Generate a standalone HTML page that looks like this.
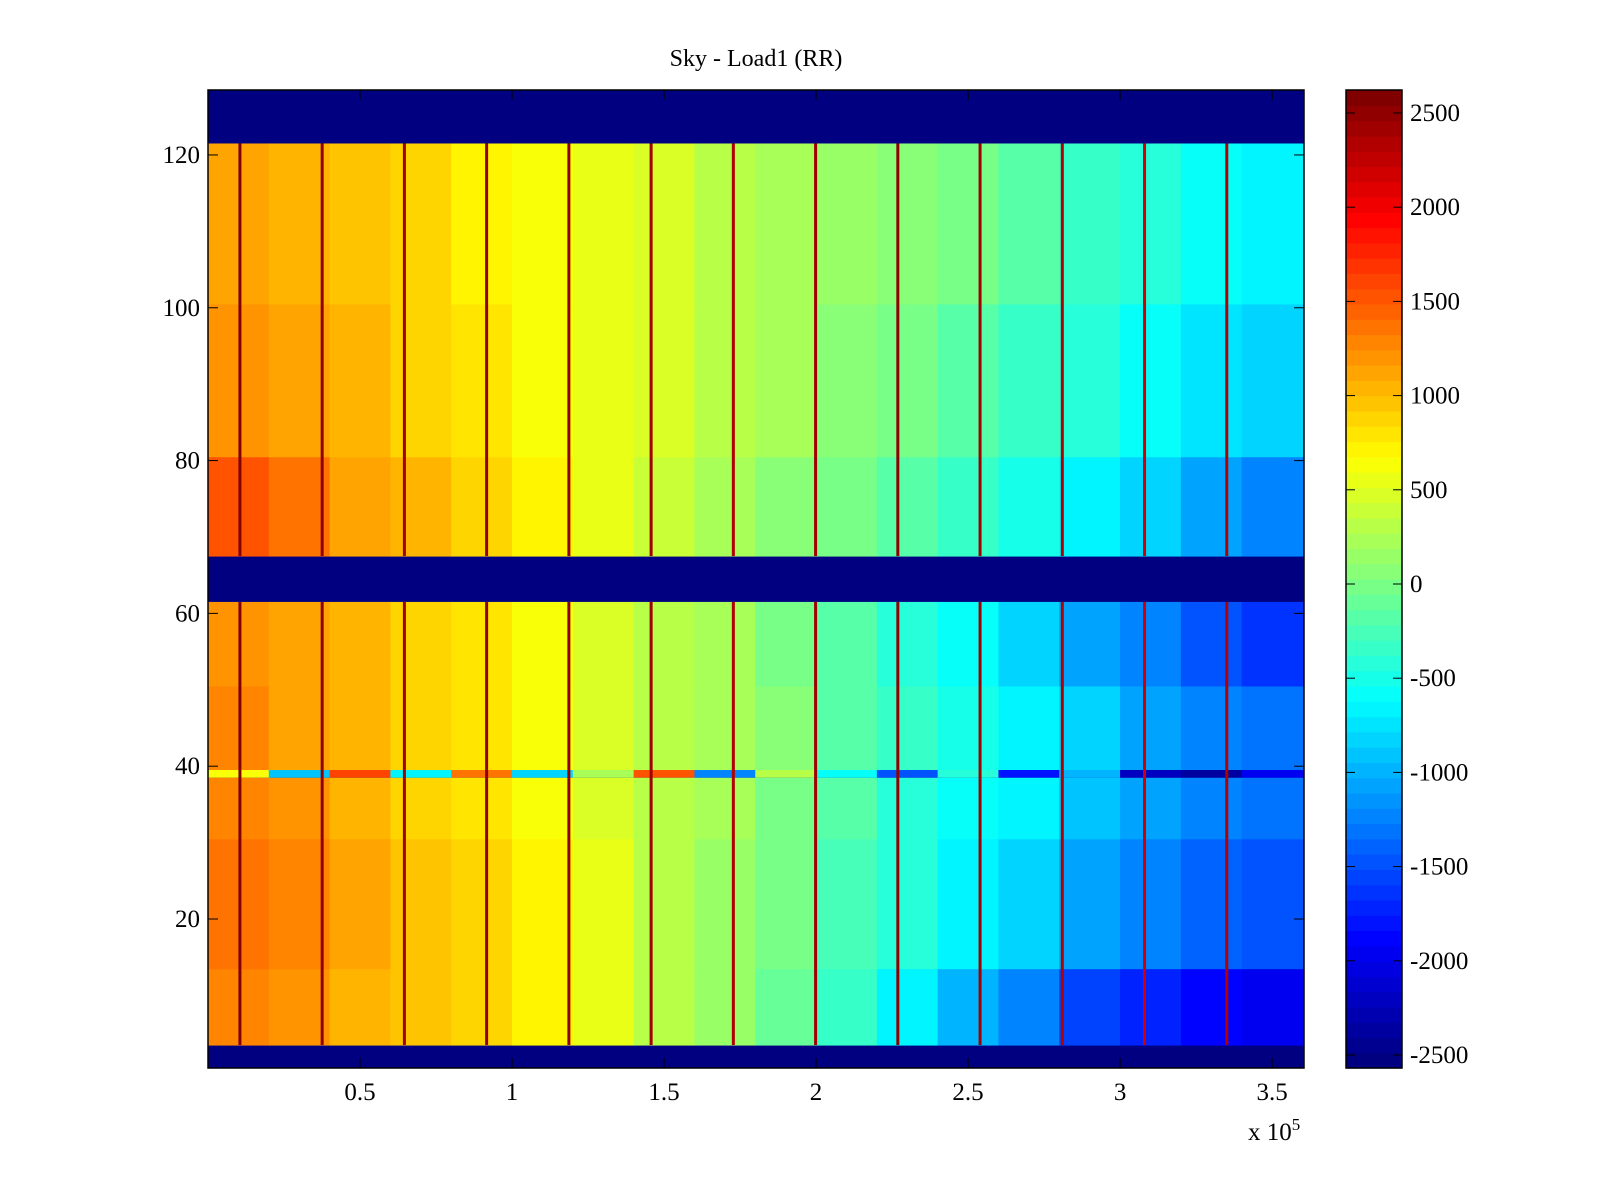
<!DOCTYPE html>
<html><head><meta charset="utf-8">
<style>
html,body{margin:0;padding:0;background:#fff;}
svg{display:block;font-family:"Liberation Serif",serif;}
</style></head>
<body>
<svg id="chart" width="1600" height="1200" xmlns="http://www.w3.org/2000/svg">
<text x="756" y="66" font-size="24" text-anchor="middle">Sky - Load1 (RR)</text>
<g id="plot"></g>
<g id="cbar"></g>
<g id="axes"></g>
</svg>
<script>
// ---- data ----
const xBinStarts = [0,20000,40000,60000,80000,100000,120000,140000,160000,180000,200000,220000,240000,260000,280000,300000,320000,340000];
const xBinWidth = 20000;
const rowBands = [[3.5,13.5],[13.5,30.5],[30.5,38.5],[39.5,50.5],[50.5,61.5],[67.5,80.5],[80.5,100.5],[100.5,121.5]];
const bandValues = [
 [1300,1200,1050,950,850,700,550,350,150,-100,-350,-650,-950,-1250,-1550,-1750,-1900,-1950],
 [1350,1250,1100,950,850,700,550,350,150,-50,-250,-450,-650,-850,-1050,-1250,-1400,-1500],
 [1300,1200,1050,900,800,650,500,350,200,0,-200,-400,-550,-700,-900,-1050,-1200,-1300],
 [1250,1150,1000,900,800,650,500,350,200,50,-150,-350,-500,-650,-850,-1050,-1200,-1300],
 [1200,1100,1000,900,800,650,500,350,200,0,-200,-400,-600,-800,-1050,-1250,-1450,-1600],
 [1500,1350,1150,1000,850,700,550,400,250,100,-50,-200,-350,-500,-650,-850,-1050,-1250],
 [1200,1100,1000,900,800,650,550,450,350,200,50,-50,-200,-350,-450,-600,-750,-850],
 [1100,1000,950,850,750,650,550,450,350,250,150,50,-50,-200,-350,-450,-550,-650]
];
const row39Values = [600,-900,1600,-700,1400,-800,200,1500,-1200,300,-600,-1500,-400,-1800,-1000,-2200,-2400,-2000];
const stripeX = [10500,37550,64600,91650,118700,145750,172800,199850,226900,253950,281000,308050,335100];
const stripeValues = [2550,2500,2450,2500,2500,2400,2350,2450,2500,2400,2350,2200,2300];
const blueRows = [[0.5,3.5],[61.5,67.5],[121.5,128.5]];
const xTicks = [0.5,1,1.5,2,2.5,3,3.5];
const yTicks = [20,40,60,80,100,120];
const cTicks = [2500,2000,1500,1000,500,0,-500,-1000,-1500,-2000,-2500];
// ---- scales ----
const X0=208,X1=1304,Y0=90,Y1=1068;
const xMin=0,xMax=360500,yMin=0.5,yMax=128.5,cMin=-2569,cMax=2622;
const sx=v=>X0+(v-xMin)/(xMax-xMin)*(X1-X0);
const sy=v=>Y1-(v-yMin)/(yMax-yMin)*(Y1-Y0);
const CB0=1346,CB1=1402;
const sc=v=>Y1-(v-cMin)/(cMax-cMin)*(Y1-Y0);
function jet(v){
 let t=(v-cMin)/(cMax-cMin); t=Math.max(0,Math.min(1,t));
 t=Math.min(63,Math.floor(t*64))/63;
 const f=x=>Math.round(255*Math.max(0,Math.min(1,1.5-Math.abs(4*t-x))));
 return `rgb(${f(3)},${f(2)},${f(1)})`;
}
const NS='http://www.w3.org/2000/svg';
function mk(tag,attrs,parent){const e=document.createElementNS(NS,tag);for(const k in attrs)e.setAttribute(k,attrs[k]);parent.appendChild(e);return e;}
const plot=document.getElementById('plot');
let bg=mk('rect',{x:X0,y:Y0,width:X1-X0,height:Y1-Y0,fill:jet(cMin)},plot);


blueRows.forEach(b=>{
 const r=mk('rect',{x:X0,y:sy(b[1]),width:X1-X0,height:sy(b[0])-sy(b[1]),fill:jet(cMin)},plot);
 
 
});
rowBands.forEach((b,i)=>{
 xBinStarts.forEach((xs,j)=>{
  const xe=Math.min(xMax,xs+xBinWidth+(j==xBinStarts.length-1?1000:0));
  const r=mk('rect',{x:sx(xs),y:sy(b[1]),width:sx(xe)-sx(xs)+0.5,height:sy(b[0])-sy(b[1])+0.5,fill:jet(bandValues[i][j])},plot);
  
  
 });
});
xBinStarts.forEach((xs,j)=>{
 const r=mk('rect',{x:sx(xs),y:sy(39.5),width:sx(Math.min(xMax,xs+xBinWidth))-sx(xs)+0.5,height:sy(38.5)-sy(39.5),fill:jet(row39Values[j])},plot);
 
 
});
stripeX.forEach((xv,i)=>{
 [[3.5,61.5],[67.5,121.5]].forEach(b=>{
  const r=mk('rect',{x:sx(xv)-1.5,y:sy(b[1]),width:3,height:sy(b[0])-sy(b[1]),fill:jet(stripeValues[i])},plot);
  
  
 });
});
const ax=document.getElementById('axes');
let fr=mk('rect',{x:X0,y:Y0,width:X1-X0,height:Y1-Y0,fill:'none',stroke:'#000','stroke-width':1.5},ax);


xTicks.forEach(t=>{
 const x=sx(t*1e5);
 mk('line',{x1:x,x2:x,y1:Y1,y2:Y1-10,stroke:'#000','stroke-width':1},ax);
 mk('line',{x1:x,x2:x,y1:Y0,y2:Y0+10,stroke:'#000','stroke-width':1},ax);
 const tx=mk('text',{x:x,y:Y1+32,'font-size':25,'text-anchor':'middle'},ax);
 tx.textContent=String(t);
 
 
});
yTicks.forEach(t=>{
 const y=sy(t);
 mk('line',{x1:X0,x2:X0+10,y1:y,y2:y,stroke:'#000','stroke-width':1},ax);
 mk('line',{x1:X1,x2:X1-10,y1:y,y2:y,stroke:'#000','stroke-width':1},ax);
 const tx=mk('text',{x:X0-8,y:y+8,'font-size':25,'text-anchor':'end'},ax);
 tx.textContent=String(t);
 
 
});
const ex=mk('text',{x:1248,y:1140,'font-size':25},ax);
ex.innerHTML='x 10<tspan dy="-10" font-size="17">5</tspan>';


const cb=document.getElementById('cbar');
for(let k=0;k<64;k++){
 const v0=cMin+(cMax-cMin)*k/64, v1=cMin+(cMax-cMin)*(k+1)/64;
 const r=mk('rect',{x:CB0,y:sc(v1),width:CB1-CB0,height:sc(v0)-sc(v1)+0.6,fill:jet((v0+v1)/2)},cb);
 
 
}
let cf=mk('rect',{x:CB0,y:Y0,width:CB1-CB0,height:Y1-Y0,fill:'none',stroke:'#000','stroke-width':1.5},cb);


cTicks.forEach(t=>{
 const y=sc(t);
 mk('line',{x1:CB0,x2:CB0+9,y1:y,y2:y,stroke:'#000','stroke-width':1},cb);
 mk('line',{x1:CB1,x2:CB1-9,y1:y,y2:y,stroke:'#000','stroke-width':1},cb);
 const tx=mk('text',{x:CB1+8,y:y+8,'font-size':25},cb);
 tx.textContent=String(t);
 
 
});
</script>
</body></html>
